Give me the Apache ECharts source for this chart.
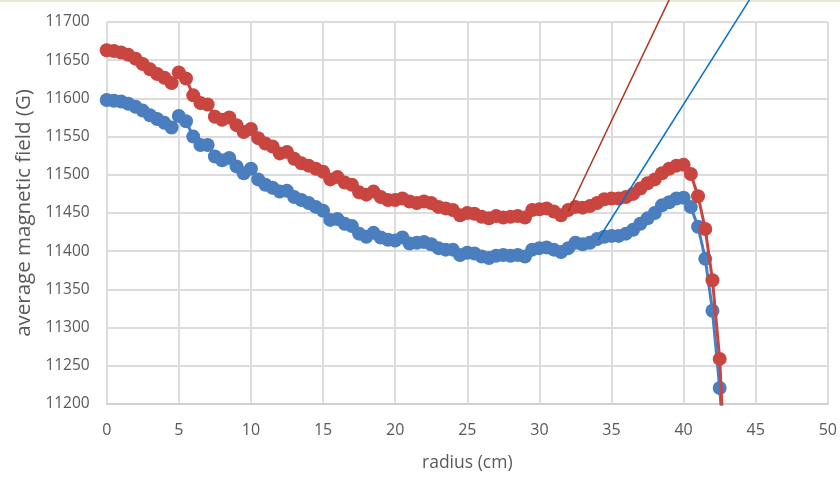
<!DOCTYPE html>
<html>
<head>
<meta charset="utf-8">
<script src="https://cdn.jsdelivr.net/npm/echarts@6/dist/echarts.min.js"></script>
<style>
html,body{margin:0;padding:0;background:#fff;}
#chart{width:840px;height:477px;}
</style>
</head>
<body>
<div id="chart"></div>
<script>
// radius (cm)
var radius = [0,0.5,1,1.5,2,2.5,3,3.5,4,4.5,5,5.5,6,6.5,7,7.5,8,8.5,9,9.5,10,10.5,11,11.5,12,12.5,13,13.5,14,14.5,15,15.5,16,16.5,17,17.5,18,18.5,19,19.5,20,20.5,21,21.5,22,22.5,23,23.5,24,24.5,25,25.5,26,26.5,27,27.5,28,28.5,29,29.5,30,30.5,31,31.5,32,32.5,33,33.5,34,34.5,35,35.5,36,36.5,37,37.5,38,38.5,39,39.5,40,40.5,41,41.5,42,42.5,43];
// upper (red) series, gauss
var fieldRed = [11663,11662,11660,11657,11652,11645,11638,11632,11627,11620,11634,11626,11604,11594,11592,11576,11572,11575,11565,11556,11560,11548,11541,11537,11528,11530,11521,11515,11512,11508,11504,11494,11497,11490,11487,11477,11474,11478,11471,11467,11467,11469,11465,11463,11465,11463,11458,11456,11454,11447,11450,11449,11445,11443,11446,11444,11445,11446,11444,11454,11455,11456,11452,11447,11454,11458,11457,11459,11463,11468,11469,11469,11471,11475,11482,11489,11494,11502,11508,11512,11513,11501,11472,11429,11362,11259,11060];
// lower (blue) series, gauss
var fieldBlue = [11598,11597,11596,11593,11589,11584,11578,11573,11568,11562,11577,11570,11550,11539,11539,11524,11519,11522,11511,11502,11508,11494,11487,11483,11478,11479,11471,11467,11463,11458,11453,11441,11442,11436,11433,11423,11419,11424,11418,11415,11414,11418,11410,11411,11412,11409,11404,11402,11402,11395,11398,11397,11393,11391,11394,11395,11394,11395,11393,11402,11404,11405,11402,11399,11404,11411,11409,11411,11416,11419,11420,11420,11423,11428,11436,11443,11450,11460,11464,11469,11470,11458,11432,11390,11322,11221,11090];
// annotation leader lines [radius, field]
var leaderRedX = [32.0, 39.4];
var leaderRedY = [11452, 11745];
var leaderBlueX = [34.07, 45.1];
var leaderBlueY = [11415, 11745];
// axis ticks
var xTicks = [0,5,10,15,20,25,30,35,40,45,50];
var yTicks = [11200,11250,11300,11350,11400,11450,11500,11550,11600,11650,11700];

function pairs(xs, ys){ var out=[]; for (var i=0;i<xs.length;i++) out.push([xs[i], ys[i]]); return out; }

var chart = echarts.init(document.getElementById('chart'), null, {renderer:'canvas'});
var font = '"Open Sans", sans-serif';
var txt = '#595959';
chart.setOption({
  animation:false,
  backgroundColor:'#ffffff',
  graphic:[{type:'rect', left:0, top:0, shape:{width:840,height:2}, style:{fill:'#e8e9d2'}, silent:true}],
  grid:{left:106.7, right:10, top:22, bottom:73, containLabel:false},
  xAxis:{
    type:'value', min:xTicks[0], max:xTicks[xTicks.length-1], interval:5,
    name:'radius (cm)', nameLocation:'middle', nameGap:50,
    nameTextStyle:{fontFamily:font, fontSize:17.5, color:txt},
    axisLine:{show:true, lineStyle:{color:'#d0d0d0', width:2}},
    axisTick:{show:false},
    axisLabel:{fontFamily:font, fontSize:16, color:txt, margin:18, formatter:function(v){return String(v);}},
    splitLine:{show:true, lineStyle:{color:'#dcdcdc', width:2}}
  },
  yAxis:{
    type:'value', min:yTicks[0], max:yTicks[yTicks.length-1], interval:50,
    name:'average magnetic field (G)', nameLocation:'middle', nameGap:66,
    nameTextStyle:{fontFamily:font, fontSize:20.5, color:txt},
    axisLine:{show:false},
    axisTick:{show:false},
    axisLabel:{fontFamily:font, fontSize:15.5, color:txt, margin:17, formatter:function(v){return String(v);}},
    splitLine:{show:true, lineStyle:{color:'#dcdcdc', width:2}}
  },
  series:[
    {type:'line', data:pairs(radius, fieldBlue), symbol:'circle', symbolSize:14, showSymbol:true,
     itemStyle:{color:'#4a7ebf'}, lineStyle:{color:'#4a7ebf', width:3}, z:2},
    {type:'line', data:pairs(radius, fieldRed), symbol:'circle', symbolSize:14, showSymbol:true,
     itemStyle:{color:'#c94540'}, lineStyle:{color:'#c94540', width:3}, z:3},
    {type:'line', data:pairs(leaderRedX, leaderRedY), symbol:'none', clip:false,
     lineStyle:{color:'#a8361c', width:1.5}, z:5},
    {type:'line', data:pairs(leaderBlueX, leaderBlueY), symbol:'none', clip:false,
     lineStyle:{color:'#0a72c6', width:1.5}, z:5}
  ]
});
</script>
</body>
</html>
